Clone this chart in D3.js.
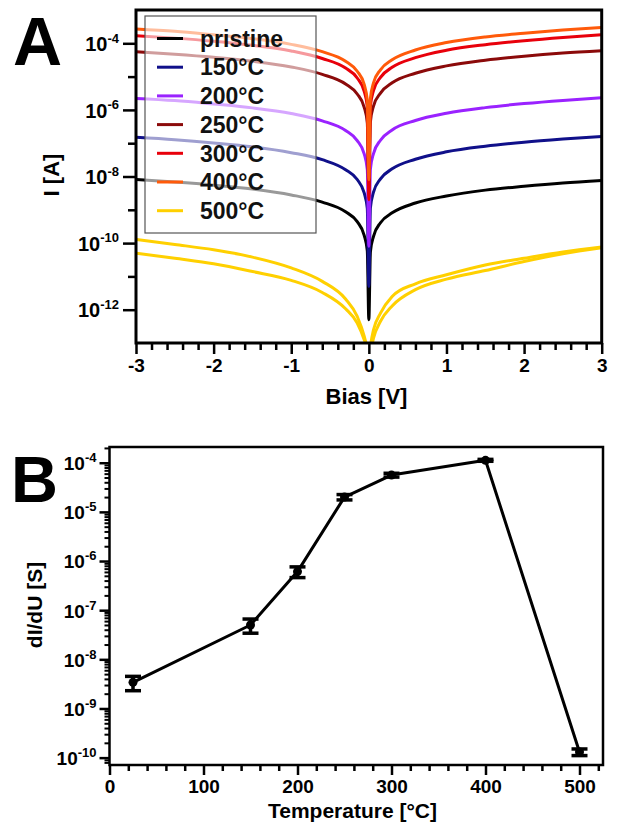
<!DOCTYPE html>
<html><head><meta charset="utf-8">
<script src="https://cdn.jsdelivr.net/npm/d3@7"></script>
<style>
html,body{margin:0;padding:0;background:#fff;}
svg{display:block;font-family:"Liberation Sans",Arial,sans-serif;font-weight:bold;}
</style></head>
<body>
<svg id="chart" width="623" height="825"></svg>
<script>
// ---------- Panel A data ----------
const biasV = [-3,-2.5,-2,-1.5,-1,-0.6,-0.3,-0.15,-0.06,-0.02,0,0.02,0.06,0.15,0.3,0.6,1,1.5,2,2.5,3];
const legendLabels = ["pristine","150°C","200°C","250°C","300°C","400°C","500°C"];
const seriesColors = ["#000000","#10108a","#9a22ff","#8b0a0a","#e8000b","#ff5a0a","#ffd000"];
const I_pristine = [8.1e-9,6.8e-9,5.5e-9,4.2e-9,2.8e-9,1.7e-9,8.7e-10,4.4e-10,1.7e-10,5.9e-11,5e-13,5.5e-11,1.6e-10,4.1e-10,8.1e-10,1.6e-9,2.6e-9,3.9e-9,5.1e-9,6.4e-9,7.6e-9];
const I_150 = [1.5e-7,1.27e-7,1.02e-7,7.8e-8,5.2e-8,3.2e-8,1.6e-8,8.1e-9,3.2e-9,1.1e-9,5e-12,1.15e-9,3.4e-9,8.5e-9,1.7e-8,3.3e-8,5.5e-8,8.1e-8,1.07e-7,1.33e-7,1.6e-7];
const I_200 = [2.2e-6,1.9e-6,1.5e-6,1.15e-6,7.8e-7,4.7e-7,2.4e-7,1.2e-7,4.8e-8,1.6e-8,8e-11,1.66e-8,4.9e-8,1.23e-7,2.5e-7,4.8e-7,7.9e-7,1.17e-6,1.55e-6,1.93e-6,2.3e-6];
const I_250 = [5.6e-5,4.7e-5,3.8e-5,2.9e-5,1.95e-5,1.17e-5,6.0e-6,3.0e-6,1.2e-6,4.1e-7,3e-9,4.4e-7,1.3e-6,3.2e-6,6.5e-6,1.26e-5,2.1e-5,3.1e-5,4.1e-5,5.1e-5,6.0e-5];
const I_300 = [1.7e-4,1.43e-4,1.15e-4,8.7e-5,5.9e-5,3.5e-5,1.8e-5,9.1e-6,3.6e-6,1.23e-6,2e-9,1.3e-6,3.8e-6,9.5e-6,1.9e-5,3.7e-5,6.2e-5,9.1e-5,1.2e-4,1.5e-4,1.8e-4];
const I_400 = [2.7e-4,2.3e-4,1.8e-4,1.38e-4,9.3e-5,5.6e-5,2.9e-5,1.45e-5,5.8e-6,1.95e-6,8e-9,2.2e-6,6.5e-6,1.6e-5,3.2e-5,6.3e-5,1.05e-4,1.55e-4,2.0e-4,2.5e-4,3.0e-4];
const I_500a = [1.29e-10,9.1e-11,6.3e-11,3.8e-11,1.8e-11,7.1e-12,2.1e-12,6.3e-13,1.6e-13,6.3e-14,3e-14,7.9e-14,2.5e-13,7.9e-13,2.5e-12,6.0e-12,1.12e-11,2.2e-11,3.5e-11,5.4e-11,7.6e-11];
const I_500b = [5e-11,3.5e-11,2.4e-11,1.4e-11,7.6e-12,3.3e-12,1.07e-12,4e-13,1.26e-13,6.3e-14,3e-14,5e-14,1.4e-13,4.5e-13,1.3e-12,4e-12,8.3e-12,1.5e-11,2.8e-11,4.8e-11,7.2e-11];
const biasTicks = [-3,-2,-1,0,1,2,3];
const currentTickExp = [-4,-6,-8,-10,-12];

// ---------- Panel B data ----------
const temperatures = [25,150,200,250,300,400,500];
const dIdU = [3.4e-9,5.0e-8,6.1e-7,2.0e-5,5.6e-5,1.12e-4,1.3e-10];
const dIdUerr = [1.1e-9,1.6e-8,1.5e-7,2.5e-6,5e-6,5e-6,2e-11];
const tempTicks = [0,100,200,300,400,500];
const condTickExp = [-4,-5,-6,-7,-8,-9,-10];

const svg = d3.select("#chart");

function supLabel(sel, exp, fs, sfs){
  sel.text(null);
  sel.append("tspan").text("10");
  sel.append("tspan").attr("font-size", sfs).attr("dy", -0.42*fs).text(String(exp));
}

// ================= PANEL A =================
{
  const L = 136, R = 601.7, T = 10, B = 343;
  const x = d3.scaleLinear().domain([-3,3]).range([L,R]);
  const y = d3.scaleLog().domain([1e-13,1e-3]).range([B,T]);
  const g = svg.append("g");

  svg.append("defs").append("clipPath").attr("id","clipA")
    .append("rect").attr("x",L).attr("y",T).attr("width",R-L).attr("height",B-T);

  const line = d3.line().x((d,i)=>x(biasV[i])).y(d=>y(d)).curve(d3.curveMonotoneX);
  const plot = g.append("g").attr("clip-path","url(#clipA)");
  const drawList = [
    {data:I_pristine,c:seriesColors[0]},{data:I_150,c:seriesColors[1]},{data:I_200,c:seriesColors[2]},
    {data:I_250,c:seriesColors[3]},{data:I_300,c:seriesColors[4]},{data:I_400,c:seriesColors[5]},
    {data:I_500a,c:seriesColors[6]},{data:I_500b,c:seriesColors[6]}
  ];
  plot.selectAll("path").data(drawList).join("path")
    .attr("d",d=>line(d.data)).attr("fill","none").attr("stroke",d=>d.c)
    .attr("stroke-width",3).attr("stroke-linejoin","round");

  // x ticks
  const xMinor = d3.range(-3,3.001,0.2).filter(v=>Math.abs(v-Math.round(v))>1e-6);
  g.append("g").attr("transform",`translate(0,${B})`)
    .call(d3.axisBottom(x).tickValues(xMinor).tickSize(7).tickFormat(""))
    .call(a=>{a.select(".domain").remove(); a.selectAll("line").attr("stroke-width",2.5);});
  g.append("g").attr("transform",`translate(0,${B})`)
    .call(d3.axisBottom(x).tickValues(biasTicks).tickSize(11).tickPadding(5).tickFormat(d=>String(d)))
    .call(a=>{a.select(".domain").remove(); a.selectAll("line").attr("stroke-width",2.5);
      a.selectAll("text").attr("font-size",19).attr("font-family","Liberation Sans, Arial").attr("font-weight","bold").attr("fill","#000");});

  // y ticks
  const yMinor = [-5,-7,-9,-11].map(e=>Math.pow(10,e));
  g.append("g").attr("transform",`translate(${L},0)`)
    .call(d3.axisLeft(y).tickValues(yMinor).tickSize(8).tickFormat(""))
    .call(a=>{a.select(".domain").remove(); a.selectAll("line").attr("stroke-width",2.5);});
  g.append("g").attr("transform",`translate(${L},0)`)
    .call(d3.axisLeft(y).tickValues(currentTickExp.map(e=>Math.pow(10,e))).tickSize(13).tickPadding(4).tickFormat(""))
    .call(a=>{a.select(".domain").remove(); a.selectAll("line").attr("stroke-width",2.5);
      a.selectAll(".tick text").attr("font-size",20).attr("font-family","Liberation Sans, Arial").attr("font-weight","bold").attr("fill","#000").attr("dy","0.36em")
        .each(function(d){ supLabel(d3.select(this), Math.round(Math.log10(d)), 20, 13); });});

  // frame
  g.append("rect").attr("x",L).attr("y",T).attr("width",R-L).attr("height",B-T)
    .attr("fill","none").attr("stroke","#000").attr("stroke-width",3);

  // legend
  const lg = g.append("g");
  lg.append("rect").attr("x",145).attr("y",16).attr("width",171).attr("height",217)
    .attr("fill","#fff").attr("fill-opacity",0.6).attr("stroke","#555").attr("stroke-width",1.2);
  const rows = lg.selectAll("g.row").data(legendLabels).join("g").attr("class","row")
    .attr("transform",(d,i)=>`translate(0,${38.5+i*28.7})`);
  rows.append("line").attr("x1",157).attr("x2",183).attr("y1",0).attr("y2",0)
    .attr("stroke",(d,i)=>seriesColors[i]).attr("stroke-width",3);
  rows.append("text").attr("x",200).attr("y",0).attr("dy","0.36em").attr("font-size",23).attr("fill","#111").text(d=>d);

  // axis titles
  g.append("text").attr("x",366.5).attr("y",404).attr("text-anchor","middle").attr("font-size",22).text("Bias [V]");
  g.append("text").attr("transform","translate(59,175) rotate(-90)").attr("text-anchor","middle").attr("font-size",22).text("I [A]");
  g.append("text").attr("x",13).attr("y",65).attr("font-size",68).text("A");
}

// ================= PANEL B =================
{
  const L = 109.5, R = 603, T = 447, B = 765;
  const x = d3.scaleLinear().domain([0,525]).range([L,R]);
  const y = d3.scaleLog().domain([Math.pow(10,-10.15),Math.pow(10,-3.68)]).range([B,T]);
  const g = svg.append("g");

  const xMinor = d3.range(0,521,20).filter(v=>v%100!==0);
  g.append("g").attr("transform",`translate(0,${B})`)
    .call(d3.axisBottom(x).tickValues(xMinor).tickSize(6).tickFormat(""))
    .call(a=>{a.select(".domain").remove(); a.selectAll("line").attr("stroke-width",2.5);});
  g.append("g").attr("transform",`translate(0,${B})`)
    .call(d3.axisBottom(x).tickValues(tempTicks).tickSize(10).tickPadding(5).tickFormat(d=>String(d)))
    .call(a=>{a.select(".domain").remove(); a.selectAll("line").attr("stroke-width",2.5);
      a.selectAll("text").attr("font-size",19).attr("font-family","Liberation Sans, Arial").attr("font-weight","bold").attr("fill","#000");});

  const yMinor = [];
  for(let e=-11;e<=-4;e++) for(let m=2;m<=9;m++){ const v=m*Math.pow(10,e); if(v>=y.domain()[0]&&v<=y.domain()[1]) yMinor.push(v); }
  g.append("g").attr("transform",`translate(${L},0)`)
    .call(d3.axisLeft(y).tickValues(yMinor).tickSize(5).tickFormat(""))
    .call(a=>{a.select(".domain").remove(); a.selectAll("line").attr("stroke-width",2);});
  g.append("g").attr("transform",`translate(${L},0)`)
    .call(d3.axisLeft(y).tickValues(condTickExp.map(e=>Math.pow(10,e))).tickSize(10).tickPadding(3).tickFormat(""))
    .call(a=>{a.select(".domain").remove(); a.selectAll("line").attr("stroke-width",2.5);
      a.selectAll(".tick text").attr("font-size",19).attr("font-family","Liberation Sans, Arial").attr("font-weight","bold").attr("fill","#000").attr("dy","0.36em")
        .each(function(d){ supLabel(d3.select(this), Math.round(Math.log10(d)), 19, 13); });});

  g.append("rect").attr("x",L).attr("y",T).attr("width",R-L).attr("height",B-T)
    .attr("fill","none").attr("stroke","#000").attr("stroke-width",2.5);

  const pts = temperatures.map((t,i)=>({t, v:dIdU[i], e:dIdUerr[i]}));
  g.append("path").datum(pts)
    .attr("d",d3.line().x(d=>x(d.t)).y(d=>y(d.v)))
    .attr("fill","none").attr("stroke","#000").attr("stroke-width",3).attr("stroke-linejoin","round");
  const eb = g.selectAll("g.eb").data(pts).join("g").attr("class","eb");
  eb.append("line").attr("x1",d=>x(d.t)).attr("x2",d=>x(d.t))
    .attr("y1",d=>y(d.v+d.e)).attr("y2",d=>y(d.v-d.e)).attr("stroke","#000").attr("stroke-width",3.5);
  eb.append("line").attr("x1",d=>x(d.t)-8).attr("x2",d=>x(d.t)+8)
    .attr("y1",d=>y(d.v+d.e)).attr("y2",d=>y(d.v+d.e)).attr("stroke","#000").attr("stroke-width",3.5);
  eb.append("line").attr("x1",d=>x(d.t)-8).attr("x2",d=>x(d.t)+8)
    .attr("y1",d=>y(d.v-d.e)).attr("y2",d=>y(d.v-d.e)).attr("stroke","#000").attr("stroke-width",3.5);
  eb.append("circle").attr("cx",d=>x(d.t)).attr("cy",d=>y(d.v)).attr("r",4.5).attr("fill","#000");

  g.append("text").attr("x",352.5).attr("y",818).attr("text-anchor","middle").attr("font-size",21).text("Temperature [°C]");
  g.append("text").attr("transform","translate(42,605) rotate(-90)").attr("text-anchor","middle").attr("font-size",21).text("dI/dU [S]");
  g.append("text").attr("x",11).attr("y",502).attr("font-size",65).text("B");
}
</script>
</body></html>
